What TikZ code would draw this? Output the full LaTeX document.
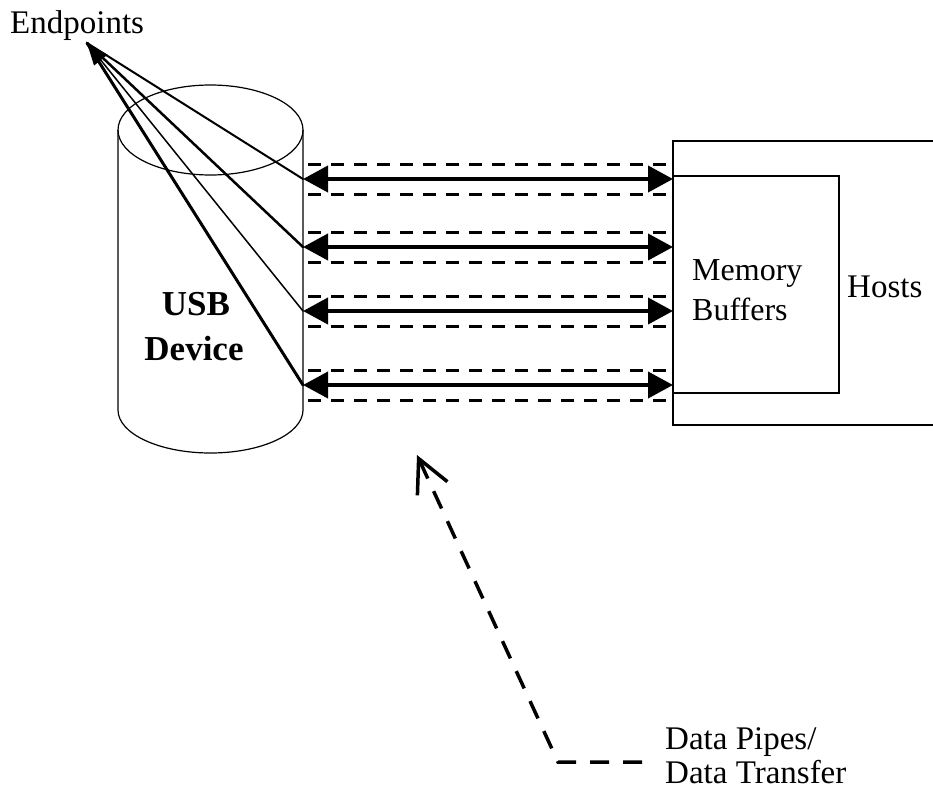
\documentclass[tikz,border=0pt]{standalone}
\usepackage{fontspec}
\setmainfont{Liberation Serif}
\usetikzlibrary{arrows.meta}
\begin{document}
\begin{tikzpicture}[x=1pt,y=-1pt,
  lbl/.style={inner sep=0pt,anchor=base west,font=\fontsize{33}{38}\selectfont},
  boldlbl/.style={inner sep=0pt,anchor=base,font=\fontsize{35}{40}\selectfont\bfseries},
  outline/.style={line width=1.2pt},
  pipe/.style={line width=4pt,{Triangle[length=25pt,width=26pt]}-{Triangle[length=25pt,width=26pt]}},
  pipewall/.style={line width=3pt,dash pattern=on 13pt off 10pt},
  epline/.style={line cap=round},
  note/.style={line width=3.5pt,dash pattern=on 19pt off 14pt}
]
\useasboundingbox (0,0) rectangle (933,790);
\clip (0,0) rectangle (933,790);
% cylinder (USB device)
\draw[outline] (210.5,130) ellipse [x radius=92.5, y radius=45];
\draw[outline] (118,130) -- (118,410) arc[start angle=180,end angle=0,x radius=92.5,y radius=43] -- (303,130);
\node[boldlbl] (usb) at (196,315) {USB};
\node[boldlbl] (dev) at (194,360) {Device};
% host box
\draw[line width=2pt] (945,141) -- (673,141) -- (673,425) -- (945,425);
\draw[outline] (673,176) -- (839,176) -- (839,393) -- (673,393);
\node[lbl,font=\fontsize{32}{38}\selectfont] (mem) at (692,280) {Memory};
\node[lbl,font=\fontsize{32}{38}\selectfont] (buf) at (692,320) {Buffers};
\node[lbl] (hosts) at (847,297) {Hosts};
% pipes
\foreach \i/\y in {1/179,2/247,3/311,4/385}{
  \coordinate (p\i) at (303,\y);
  \coordinate (q\i) at (673,\y);
  \draw[pipewall] (308,\y-15) -- (667,\y-15);
  \draw[pipewall] (308,\y+15) -- (667,\y+15);
  \draw[pipe] (p\i) -- (q\i);
}
% endpoints
\node[lbl] (endpoints) at (10,33) {Endpoints};
\coordinate (ep) at (87,43);
\draw[epline,line width=2pt] (p1) -- (ep);
\draw[epline,line width=2.5pt] (p2) -- (ep);
\draw[epline,line width=3pt] (p4) -- (ep);
\draw[epline,line width=1.5pt,-{Triangle[length=22pt,width=17pt]}] (p3) -- (ep);
% data pipes note
\node[lbl] (dp1) at (665,749) {Data Pipes/};
\node[lbl] (dp2) at (665,783) {Data Transfer};
\coordinate (nstart) at (642,762);
\coordinate (ncorner) at (558,762);
\coordinate (ntip) at (417,455);
\draw[note,-{Straight Barb[length=33pt,width=33pt,line width=3.5pt]}] (nstart) -- (ncorner) -- (ntip);
\end{tikzpicture}
\end{document}
